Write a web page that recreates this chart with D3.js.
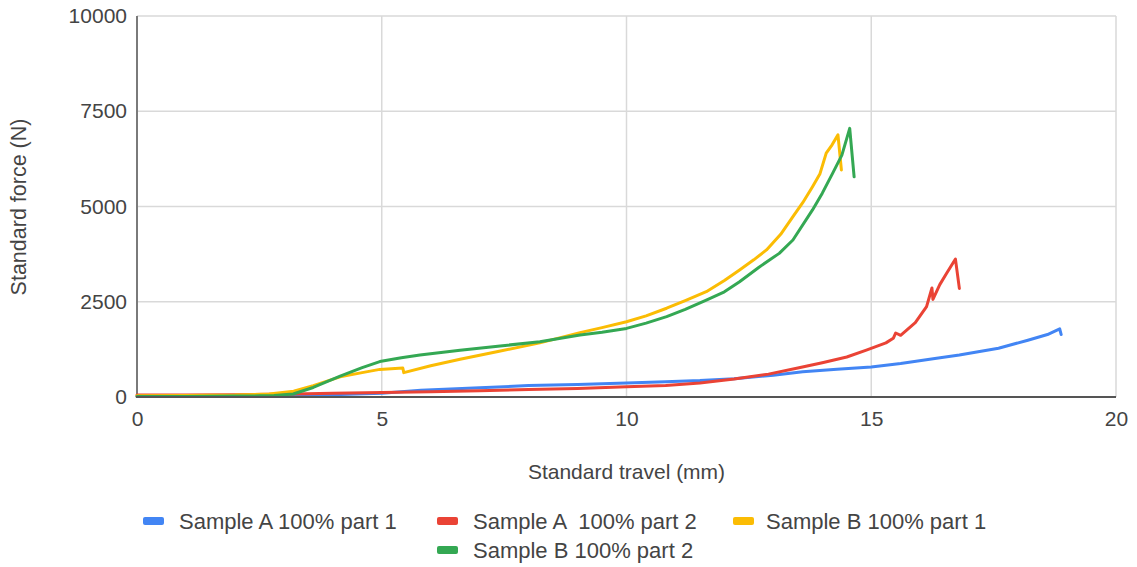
<!DOCTYPE html>
<html>
<head>
<meta charset="utf-8">
<script src="https://cdn.jsdelivr.net/npm/d3@7"></script>
<style>
  html, body { margin: 0; padding: 0; background: #fff; }
  svg { display: block; }
  text { font-family: Arial, "Liberation Sans", sans-serif; }
</style>
</head>
<body>
<svg id="chart" width="1137" height="567"></svg>
<script>
// ---------- data ----------
const seriesNames = ["Sample A 100% part 1", "Sample A  100% part 2", "Sample B 100% part 1", "Sample B 100% part 2"];
const seriesColors = ["#4285f4", "#ea4335", "#fbbc04", "#34a853"];

const xTicks = [0, 5, 10, 15, 20];
const yTicks = [0, 2500, 5000, 7500, 10000];

const travelA1 = [0, 1, 2, 3, 3.5, 4, 5, 5.8, 7, 8, 9, 10, 10.8, 11.5, 12.2, 13, 13.6, 14.3, 15, 15.6, 16.3, 16.8, 17.6, 18.2, 18.6, 18.85, 18.88];
const forceA1  = [20, 20, 15, 20, 40, 60, 100, 180, 240, 300, 330, 370, 400, 430, 480, 570, 660, 730, 790, 880, 1010, 1100, 1280, 1490, 1640, 1790, 1640];

const travelA2 = [0, 1, 2, 2.7, 3.2, 4, 5, 6, 7, 8, 9, 10, 10.8, 11.5, 12.2, 12.9, 13.5, 14, 14.5, 14.9, 15.3, 15.45, 15.5, 15.6, 15.9, 16.13, 16.24, 16.26, 16.4, 16.54, 16.72, 16.8];
const forceA2  = [50, 50, 60, 70, 80, 100, 115, 140, 165, 200, 225, 270, 300, 370, 470, 600, 760, 900, 1050, 1230, 1420, 1540, 1680, 1620, 1950, 2370, 2860, 2560, 2950, 3250, 3620, 2850];

const travelB1 = [0, 1, 2, 2.7, 3.2, 3.6, 4.15, 4.6, 4.96, 5.43, 5.45, 6, 6.6, 7.4, 8.23, 9.05, 9.5, 10, 10.4, 10.82, 11.2, 11.63, 12, 12.31, 12.6, 12.86, 13.15, 13.4, 13.6, 13.8, 13.95, 14.08, 14.2, 14.32, 14.39];
const forceB1  = [30, 40, 50, 80, 150, 300, 530, 640, 725, 760, 640, 820, 990, 1200, 1420, 1690, 1820, 1975, 2130, 2330, 2530, 2765, 3060, 3335, 3600, 3860, 4270, 4735, 5100, 5520, 5850, 6400, 6620, 6880, 5960];

const travelB2 = [0, 1, 2, 2.51, 2.8, 3.19, 3.6, 4.15, 4.6, 4.96, 5.4, 5.78, 6.6, 7.42, 8.23, 9.05, 9.5, 10, 10.4, 10.82, 11.2, 11.63, 12, 12.31, 12.7, 13.12, 13.4, 13.8, 14.0, 14.21, 14.4, 14.56, 14.65];
const forceB2  = [10, 15, 25, 30, 40, 80, 250, 550, 770, 930, 1030, 1100, 1230, 1340, 1450, 1630, 1700, 1800, 1940, 2110, 2300, 2545, 2760, 3025, 3400, 3770, 4120, 4910, 5350, 5870, 6350, 7050, 5780];

const seriesX = [travelA1, travelA2, travelB1, travelB2];
const seriesY = [forceA1, forceA2, forceB1, forceB2];

// ---------- layout ----------
const svg = d3.select("#chart");
const plotLeft = 137, plotRight = 1116, plotTop = 16, plotBottom = 397;

const x = d3.scaleLinear().domain([0, 20]).range([plotLeft, plotRight]);
const y = d3.scaleLinear().domain([0, 10000]).range([plotBottom, plotTop]);

// gridlines
svg.append("g").selectAll("line").data(yTicks.filter(d => d > 0)).join("line")
  .attr("x1", plotLeft).attr("x2", plotRight)
  .attr("y1", d => y(d)).attr("y2", d => y(d))
  .attr("stroke", "#d9d9d9").attr("stroke-width", 1.5);
svg.append("g").selectAll("line").data(xTicks.filter(d => d > 0)).join("line")
  .attr("x1", d => x(d)).attr("x2", d => x(d))
  .attr("y1", plotTop).attr("y2", plotBottom)
  .attr("stroke", "#d9d9d9").attr("stroke-width", 1.5);

// left axis line
svg.append("line").attr("x1", plotLeft).attr("x2", plotLeft).attr("y1", plotTop).attr("y2", plotBottom)
  .attr("stroke", "#7a7a7a").attr("stroke-width", 2);

// tick labels
const yAxis = d3.axisLeft(y).tickValues(yTicks).tickFormat(d3.format("d")).tickSize(0).tickPadding(10);
const gy = svg.append("g").attr("transform", `translate(${plotLeft},0)`).call(yAxis);
gy.select(".domain").remove();
gy.selectAll("text").attr("font-size", 21).attr("fill", "#444").style("font-family", "Arial, 'Liberation Sans', sans-serif");

const xAxis = d3.axisBottom(x).tickValues(xTicks).tickFormat(d3.format("d")).tickSize(0).tickPadding(14);
const gx = svg.append("g").attr("transform", `translate(0,${plotBottom})`).call(xAxis);
gx.select(".domain").remove();
gx.selectAll("text").attr("font-size", 21).attr("fill", "#444").style("font-family", "Arial, 'Liberation Sans', sans-serif");

// series
const line = d3.line().x(d => x(d[0])).y(d => y(d[1])).curve(d3.curveLinear);
seriesX.forEach((xs, i) => {
  const pts = xs.map((v, j) => [v, seriesY[i][j]]);
  svg.append("path").datum(pts)
    .attr("d", line)
    .attr("fill", "none")
    .attr("stroke", seriesColors[i])
    .attr("stroke-width", 3)
    .attr("stroke-linejoin", "round")
    .attr("stroke-linecap", "round");
});

// bottom axis line on top
svg.append("line").attr("x1", plotLeft - 1).attr("x2", plotRight).attr("y1", plotBottom).attr("y2", plotBottom)
  .attr("stroke", "#555").attr("stroke-width", 2);

// axis titles
svg.append("text").attr("x", (plotLeft + plotRight) / 2).attr("y", 479)
  .attr("text-anchor", "middle").attr("font-size", 21).attr("fill", "#444")
  .text("Standard travel (mm)");
svg.append("text").attr("transform", "translate(26,207) rotate(-90)")
  .attr("text-anchor", "middle").attr("font-size", 21.5).attr("fill", "#444")
  .text("Standard force (N)");

// legend
const legendPos = [[143, 521], [437, 521], [733, 521], [437, 550]];
const lg = svg.append("g").selectAll("g").data(seriesNames).join("g")
  .attr("transform", (d, i) => `translate(${legendPos[i][0]},${legendPos[i][1]})`);
lg.append("rect").attr("x", 0).attr("y", -4).attr("width", 21).attr("height", 8).attr("rx", 2)
  .attr("fill", (d, i) => seriesColors[i]);
lg.append("text").attr("x", (d, i) => i === 2 ? 33 : 36).attr("y", 0).attr("dy", "0.35em")
  .attr("font-size", 22).attr("fill", "#444").style("white-space", "pre")
  .text(d => d);
</script>
</body>
</html>
